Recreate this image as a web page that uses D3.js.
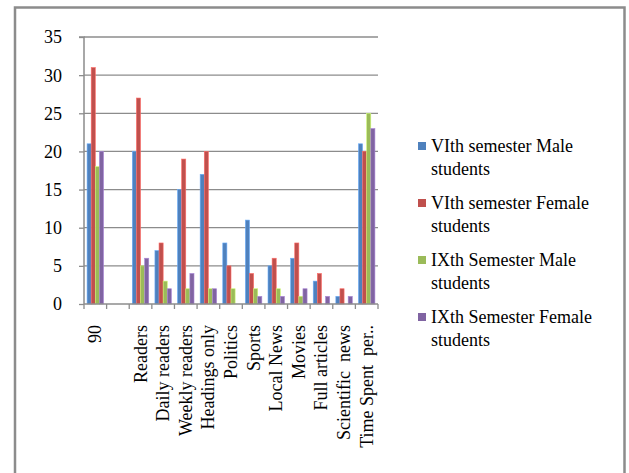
<!DOCTYPE html>
<html>
<head>
<meta charset="utf-8">
<script src="https://cdn.jsdelivr.net/npm/d3@7"></script>
<style>
  html, body { margin: 0; padding: 0; background: #fff; }
  svg { display: block; }
  svg text { font-family: "Liberation Serif", "Times New Roman", serif !important; fill: #000; }
</style>
</head>
<body>
<svg id="chart" width="629" height="473" font-family="Liberation Serif, serif"></svg>
<script>
// Newspaper reading habits by semester and gender
const categories = ["90", "", "Readers", "Daily readers", "Weekly readers", "Headings only",
  "Politics", "Sports", "Local News", "Movies", "Full articles", "Scientific  news", "Time Spent  per.."];
const seriesNames = ["VIth semester Male students", "VIth semester Female students",
  "IXth Semester Male students", "IXth Semester Female students"];
const vithMale     = [21, 0, 20, 7, 15, 17, 8, 11, 5, 6, 3, 1, 21];
const vithFemale   = [31, 0, 27, 8, 19, 20, 5, 4, 6, 8, 4, 2, 20];
const ixthMale     = [18, 0, 5, 3, 2, 2, 2, 2, 2, 1, 0, 0, 25];
const ixthFemale   = [20, 0, 6, 2, 4, 2, 0, 1, 1, 2, 1, 1, 23];
const yTicks = [0, 5, 10, 15, 20, 25, 30, 35];
const colors = ["#4F81BD", "#C0504D", "#9BBB59", "#8064A2"];

const seriesValues = [vithMale, vithFemale, ixthMale, ixthFemale];
const serif = "Liberation Serif, Times New Roman, serif";

const svg = d3.select("#chart");

// outer chart frame (bottom edge runs off the page)
svg.append("path")
  .attr("d", "M15,480 L15,7.5 L624.5,7.5 L624.5,480")
  .attr("fill", "none").attr("stroke", "#8c8c8c").attr("stroke-width", 2.5);

const plot = { left: 84, right: 378, top: 37, bottom: 304 };

const x = d3.scaleBand().domain(d3.range(categories.length))
  .range([plot.left, plot.right]).paddingInner(0).paddingOuter(0);
const y = d3.scaleLinear().domain([0, 35]).range([plot.bottom, plot.top]);

// horizontal gridlines
svg.append("g").selectAll("line").data(yTicks.filter(t => t > 0)).join("line")
  .attr("x1", plot.left).attr("x2", plot.right)
  .attr("y1", d => y(d)).attr("y2", d => y(d))
  .attr("stroke", "#8c8c8c").attr("stroke-width", 1.3);

// bars: gap between groups is 1.5 bar widths
const barW = x.bandwidth() / 5.5;
const gap = barW * 0.75;
const barsG = svg.append("g");
seriesValues.forEach((vals, si) => {
  barsG.append("g").selectAll("rect").data(vals.map((v, i) => ({ v, i }))).join("rect")
    .filter(d => d.v > 0)
    .attr("x", d => x(d.i) + gap + si * barW)
    .attr("y", d => y(d.v))
    .attr("width", barW)
    .attr("height", d => y(0) - y(d.v))
    .attr("fill", colors[si])
    .attr("stroke", d3.color(colors[si]).brighter(0.8))
    .attr("stroke-width", 0.6);
});

// y axis
const yAxis = d3.axisLeft(y).tickValues(yTicks).tickSize(5).tickPadding(17);
const yg = svg.append("g").attr("transform", `translate(${plot.left},0)`).call(yAxis)
  .attr("font-family", serif).attr("font-size", 18);
yg.select(".domain").attr("stroke", "#8c8c8c").attr("stroke-width", 1.5)
  .attr("d", `M-5,${plot.top}H0V${plot.bottom}`);
yg.selectAll(".tick line").attr("stroke", "#8c8c8c").attr("stroke-width", 1.3);
yg.selectAll(".tick text").style("font-family", serif).style("font-size", "18px").attr("dy", "0.33em");

// x axis
const xAxis = d3.axisBottom(x).tickSize(0).tickFormat("");
const xg = svg.append("g").attr("transform", `translate(0,${plot.bottom})`).call(xAxis);
xg.select(".domain").attr("stroke", "#8c8c8c").attr("stroke-width", 1.5)
  .attr("d", `M${plot.left},0H${plot.right}`);
xg.selectAll(".tick").remove();
// category boundary ticks
const boundaries = d3.range(categories.length + 1).map(i => plot.left + i * x.step());
xg.append("g").selectAll("line").data(boundaries).join("line")
  .attr("x1", d => d).attr("x2", d => d).attr("y1", 0).attr("y2", 5)
  .attr("stroke", "#8c8c8c").attr("stroke-width", 1.3);

// rotated category labels
svg.append("g").selectAll("text").data(categories).join("text")
  .attr("transform", (d, i) => `translate(${x(i) + x.bandwidth() / 2 + 6},${plot.bottom + 21}) rotate(-90)`)
  .attr("text-anchor", "end")
  .style("font-family", serif)
  .style("font-size", "18px")
  .style("white-space", "pre")
  .text(d => d);

// legend
const legend = svg.append("g");
const legendTop = 146;
const legendStep = 57;
seriesNames.forEach((name, i) => {
  const g = legend.append("g").attr("transform", `translate(418,${legendTop + i * legendStep})`);
  g.append("rect").attr("x", 0).attr("y", -4).attr("width", 8).attr("height", 8).attr("fill", colors[i]);
  const words = name.split(" ");
  const first = words.slice(0, -1).join(" ");
  const last = words[words.length - 1];
  g.append("text").attr("x", 13).attr("y", 6).style("font-family", serif).style("font-size", "18px").text(first);
  g.append("text").attr("x", 13).attr("y", 29).style("font-family", serif).style("font-size", "18px").text(last);
});
</script>
</body>
</html>
